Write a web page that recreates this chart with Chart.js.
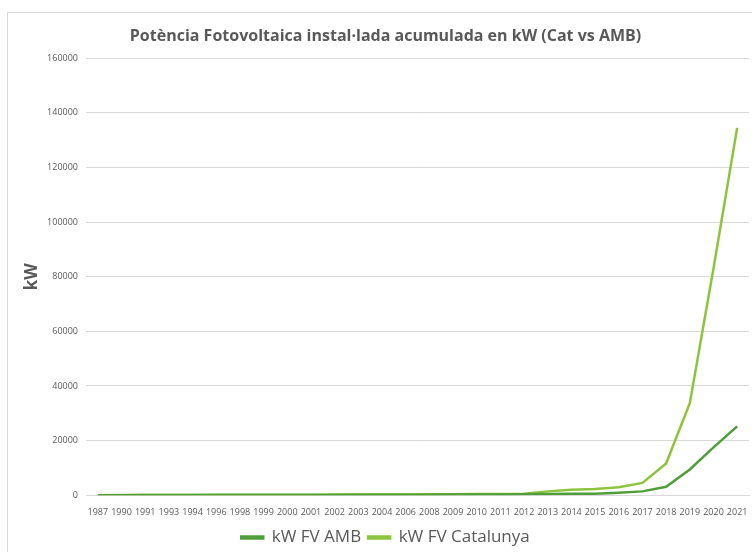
<!DOCTYPE html>
<html>
<head>
<meta charset="utf-8">
<script src="https://cdn.jsdelivr.net/npm/chart.js@4"></script>
<style>
  html, body { margin: 0; padding: 0; background: #fff; overflow: hidden; }
  #wrap { position: relative; width: 752px; height: 552px; }
  #frame { position: absolute; left: 7px; top: 12px; width: 800px; height: 600px;
           border: 1px solid #d9d9d9; pointer-events: none; }
  canvas { position: absolute; left: 0; top: 0; }
</style>
</head>
<body>
<div id="wrap">
  <div id="frame"></div>
  <canvas id="chart" width="752" height="552"></canvas>
</div>
<script>
// Potència FV instal·lada acumulada (kW), Catalunya vs AMB
const years = ["1987", "1990", "1991", "1993", "1994", "1996", "1998", "1999", "2000",
  "2001", "2002", "2003", "2004", "2006", "2008", "2009", "2010", "2011", "2012",
  "2013", "2014", "2015", "2016", "2017", "2018", "2019", "2020", "2021"];

const kwAMB = [10, 20, 30, 40, 50, 60, 70, 80, 90, 100, 110, 120, 130, 150, 200, 250,
  280, 300, 320, 450, 500, 550, 900, 1400, 3100, 9400, 17500, 25200];

const kwCat = [20, 40, 60, 80, 100, 120, 140, 160, 180, 200, 220, 240, 260, 300, 350, 380,
  420, 460, 500, 1400, 2000, 2300, 2900, 4500, 11600, 33700, 83000, 134500];

const yTicks = [0, 20000, 40000, 60000, 80000, 100000, 120000, 140000, 160000];

const grey = "#595959";
const font = "'Open Sans', 'Noto Sans', sans-serif";

new Chart(document.getElementById("chart"), {
  type: "line",
  data: {
    labels: years,
    datasets: [
      { label: "kW FV AMB", data: kwAMB, borderColor: "#4f9e3a", backgroundColor: "#4f9e3a" },
      { label: "kW FV Catalunya", data: kwCat, borderColor: "#8cc43c", backgroundColor: "#8cc43c" },
    ],
  },
  options: {
    responsive: false,
    animation: false,
    elements: {
      point: { radius: 0 },
      line: { borderWidth: 2.5, tension: 0 },
    },
    layout: { padding: { top: 23, right: 3, left: 22, bottom: -4 } },
    plugins: {
      tooltip: { enabled: false },
      title: {
        display: true,
        text: "Potència Fotovoltaica instal·lada acumulada en kW (Cat vs AMB)",
        color: grey,
        font: { family: font, size: 16, weight: "bold" },
        padding: { top: 4, bottom: 12 },
      },
      legend: {
        position: "bottom",
        labels: {
          color: grey,
          font: { family: font, size: 17 },
          boxWidth: 22,
          boxHeight: 2,
          padding: 7,
        },
      },
    },
    scales: {
      x: {
        offset: true,
        grid: { display: false },
        border: { color: "#d9d9d9" },
        ticks: {
          color: grey,
          font: { family: font, size: 9 },
          maxRotation: 0,
          autoSkip: false,
          padding: 4,
        },
      },
      y: {
        min: 0,
        max: 160000,
        afterBuildTicks: (s) => { s.ticks = yTicks.map((v) => ({ value: v })); },
        afterFit: (s) => { s.width = 64; },
        grid: { color: "#d9d9d9", drawTicks: false },
        border: { display: false },
        ticks: {
          color: grey,
          font: { family: font, size: 9 },
          padding: 8,
          callback: (v) => String(v),
        },
        title: {
          display: true,
          text: "kW",
          color: grey,
          font: { family: font, size: 17, weight: "bold" },
          padding: { top: 0, bottom: 6 },
        },
      },
    },
  },
});
</script>
</body>
</html>
